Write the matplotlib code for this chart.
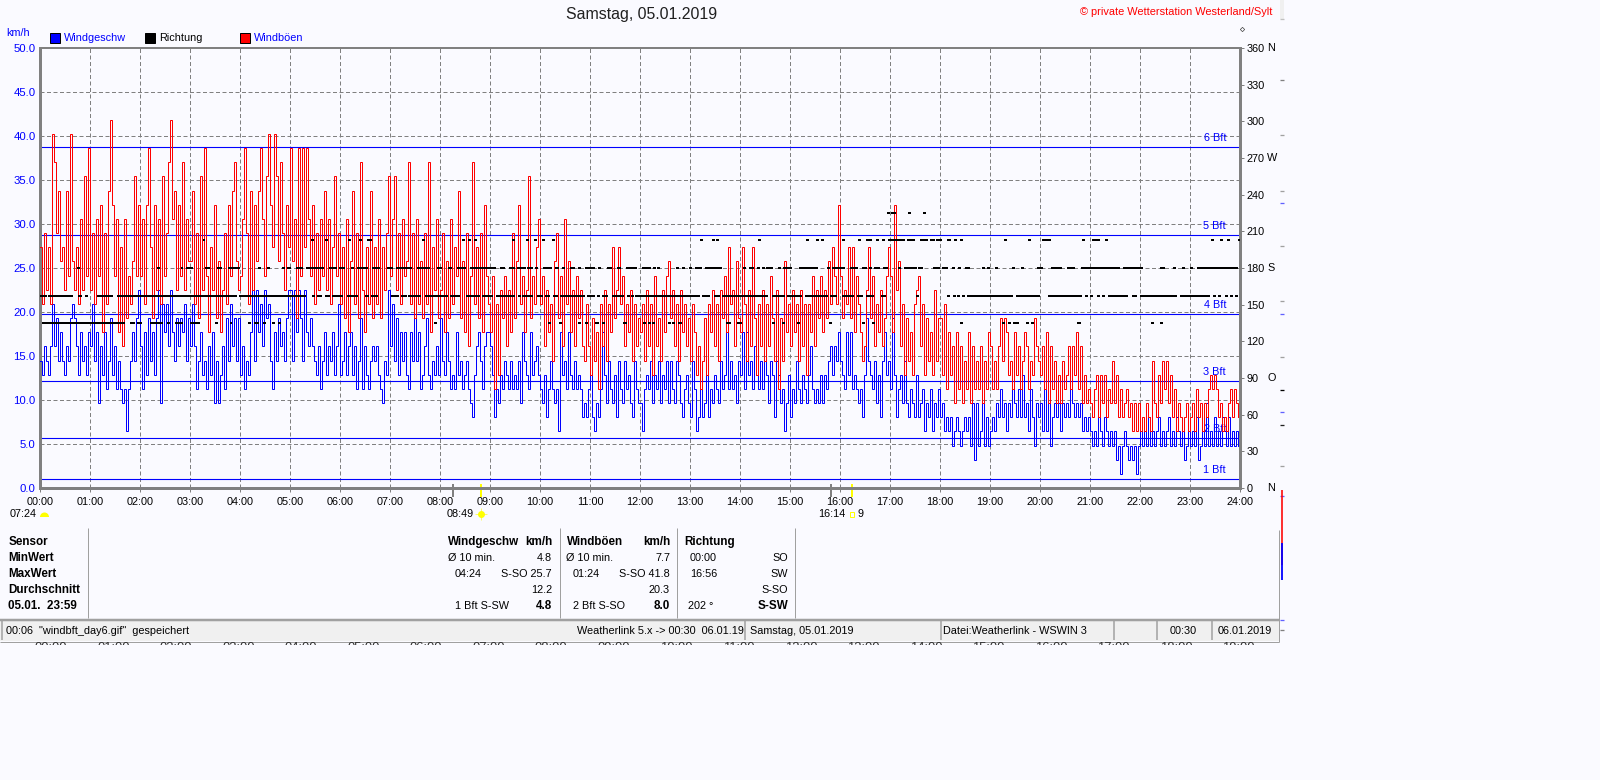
"""Tagesgrafik Wind (WSWIN): Windgeschwindigkeit, Boeen und Richtung, 05.01.2019."""
import matplotlib

matplotlib.use("Agg")
import matplotlib.pyplot as plt
import numpy as np
from matplotlib.patches import Rectangle, Wedge

plt.rcParams["font.family"] = ["Liberation Sans", "DejaVu Sans"]
plt.rcParams["path.simplify"] = False

# station logs whole mph, one row per hour
MPH_TO_KMH = 1.609
WIND_MPH = [
    9,8,10,9,8,10,13,10,12,9,11,9,8,10,9,12,13,12,10,8,11,9,10,8,11,
    10,13,9,11,6,10,8,11,7,9,12,8,10,7,9,7,6,7,4,7,9,11,9,12,14,
    10,7,11,8,12,9,11,8,12,14,6,13,11,13,10,14,11,9,12,10,12,11,13,9,12,
    10,13,10,7,9,11,8,9,7,10,8,11,6,9,6,8,10,7,12,9,13,10,12,9,12,
    8,10,7,9,8,11,14,9,14,11,13,10,14,12,13,9,7,11,9,12,10,11,9,12,14,
    14,9,14,11,14,12,9,14,11,10,12,10,9,8,10,7,9,11,8,10,9,11,8,10,13,
    8,9,11,8,10,11,8,10,7,9,12,7,10,8,7,9,10,9,10,8,7,6,9,8,14,
    10,13,9,12,8,11,9,11,8,7,11,9,12,9,11,7,8,10,12,8,7,9,8,10,8,
    12,9,8,11,9,7,8,7,11,8,9,7,8,9,7,6,5,8,10,11,9,7,10,11,11,
    10,8,5,7,6,8,7,9,8,7,9,7,8,7,9,6,11,9,8,7,11,8,9,10,8,
    7,6,8,5,7,9,7,6,7,4,11,8,9,7,11,8,7,9,7,8,7,5,6,5,7,
    8,5,4,6,5,7,11,8,6,9,7,6,8,5,9,7,6,9,7,8,6,5,9,7,6,
    6,4,7,8,7,9,6,8,7,9,6,8,7,9,6,9,7,6,9,8,6,5,7,8,6,
    5,9,7,4,5,7,5,6,8,5,7,6,8,7,6,9,7,8,11,7,9,7,8,6,9,
    8,11,7,11,8,9,7,10,8,7,9,7,9,8,6,9,8,5,9,8,6,7,4,6,8,
    5,7,6,9,7,6,8,7,6,8,10,7,6,7,6,8,6,8,7,9,10,8,10,9,11,
    9,8,7,11,8,11,7,8,7,6,7,5,8,12,9,8,7,9,6,8,5,9,11,8,9,
    7,12,8,5,7,8,6,9,6,5,7,6,5,8,5,6,7,4,6,5,7,4,6,5,7,
    5,6,4,5,4,5,3,4,5,4,3,4,5,4,5,3,6,2,6,3,4,6,3,5,3,
    4,5,4,6,5,7,5,6,4,6,5,7,6,5,7,5,8,5,6,4,7,5,3,6,5,
    6,4,7,4,6,3,5,6,5,6,4,6,5,6,5,7,6,5,6,5,6,4,5,4,5,
    4,3,4,3,5,4,3,5,4,3,4,3,4,2,3,1,3,4,3,2,3,2,3,1,3,
    4,3,4,3,5,3,4,3,4,5,3,4,3,4,5,3,4,3,5,4,3,4,2,3,4,
    3,4,3,5,2,3,4,3,6,3,4,3,5,3,4,3,5,4,3,5,3,4,3,4,3,
]
GUST_MPH = [
    17,13,18,14,17,13,25,23,18,21,16,17,14,21,15,25,16,14,17,13,19,14,22,15,24,
    14,18,13,19,15,20,11,18,13,21,26,20,15,19,11,17,10,19,12,15,13,16,22,15,20,
    15,19,13,20,24,17,12,20,14,19,13,22,15,18,23,26,19,21,14,20,15,23,14,19,16,
    16,21,13,18,12,22,14,24,15,11,17,14,20,12,16,11,14,18,13,20,15,21,23,16,14,
    15,19,24,18,13,21,14,20,16,21,24,19,15,22,25,20,17,25,22,16,23,18,14,20,17,
    24,16,19,12,24,15,24,17,24,19,15,20,13,18,14,19,15,21,14,19,13,17,22,15,18,
    13,17,12,19,11,16,21,13,18,12,23,14,11,17,13,21,12,17,13,19,12,17,14,18,22,
    15,19,22,14,18,13,19,15,16,23,13,18,12,19,13,16,12,18,13,23,11,17,14,19,12,
    14,18,11,16,12,19,13,17,15,21,12,16,11,18,10,15,23,13,17,12,18,11,20,15,13,
    11,15,7,13,8,14,12,15,10,14,11,18,12,16,20,13,15,11,14,22,12,15,13,17,19,
    13,15,10,14,11,13,9,16,18,12,15,10,19,13,16,11,14,10,15,12,14,10,9,13,10,
    8,12,9,11,7,13,10,14,9,13,11,17,12,14,17,13,15,10,13,11,14,9,13,10,12,
    11,13,9,14,10,13,8,15,10,12,9,14,11,15,16,12,14,10,13,9,14,11,13,10,12,
    9,13,11,8,10,7,9,12,8,13,11,14,10,13,9,14,12,15,11,17,13,14,10,16,12,
    11,17,13,9,14,10,17,12,8,13,10,14,9,13,10,15,12,9,14,7,12,9,16,11,13,
    10,14,11,13,9,14,10,13,8,13,11,15,10,14,12,15,11,14,12,16,13,17,15,13,20,
    15,12,14,13,17,12,17,11,15,13,11,9,10,14,17,12,15,10,13,11,14,10,12,15,17,
    15,11,20,14,16,10,13,8,12,9,11,8,13,14,15,10,13,8,12,9,11,8,14,9,12,
    12,8,13,7,11,8,10,6,11,7,10,6,9,7,11,6,10,7,9,7,10,6,9,7,11,
    10,7,9,7,10,12,9,12,11,8,9,7,11,8,10,7,9,11,10,7,9,8,12,10,9,
    8,10,7,11,6,10,7,9,6,8,6,9,7,8,10,7,10,8,11,7,10,6,8,6,7,
    6,5,7,8,5,8,6,8,5,7,6,9,6,8,5,7,5,6,7,5,6,4,6,4,6,
    4,5,4,6,5,4,9,6,5,8,6,9,7,9,6,8,5,7,4,6,5,4,5,6,4,
    5,6,4,7,5,6,4,6,5,7,8,7,8,7,5,6,4,5,4,6,7,5,7,6,5,
]

# wind direction: hours with a reading per 22.5 degree sector, single value = one dot
DIR_135 = [
    (0.04, 1.70), (1.80, 1.90), (1.94, 2.04), (2.20, 2.46), 2.54, (2.70, 2.86), (3.00, 3.20),
    3.50, 3.80, 4.16, (4.28, 4.38), (4.46, 4.49), 4.64, 4.76, 7.88, 10.16, 10.38, 10.76, 10.90,
    (11.10, 11.18), 11.24, (11.66, 11.74), 12.06, 12.16, 12.24, 12.56, 12.64, (12.76, 12.84),
    (13.72, 13.82), (13.94, 14.04), 14.64, 14.84, 15.14, 15.78, (16.44, 16.50), 16.64, 18.40,
    19.24, 19.36, (19.46, 19.58), 19.72, 19.82, (20.74, 20.82), 22.22, 22.40,
]
DIR_157 = [
    (0, 0.14), (0.16, 0.66), (0.76, 0.84), (0.90, 0.96), (1.14, 1.46), (1.54, 3.94), (3.98, 5.32),
    5.44, (5.54, 5.64), (5.70, 5.80), (5.84, 6.06), (6.14, 6.36), (6.50, 6.58), (6.62, 6.76),
    (7.02, 7.18), (7.22, 7.34), (7.36, 7.62), (7.70, 8.16), (8.20, 8.40), (8.52, 8.80), (8.84, 9.06),
    (9.12, 9.50), 9.56, (9.64, 9.86), (9.94, 10.06), (10.10, 10.20), (10.26, 10.36), (10.40, 10.90),
    (10.94, 11.10), 11.14, (11.24, 11.36), (11.44, 11.68), (11.74, 11.78), (11.82, 11.86),
    (11.90, 13.20), (13.24, 13.40), (13.48, 13.60), (13.64, 14.56), (14.64, 14.90), (14.94, 15.24),
    (15.30, 15.76), (15.80, 15.94), (16.04, 16.28), (16.34, 16.46), (16.52, 16.68), (16.82, 16.92),
    (17.52, 17.56), (18.14, 18.20), 18.26, 18.34, (18.44, 18.50), (18.54, 19.46), (19.52, 20.0),
    (20.16, 20.84), 20.90, 21.0, 21.14, (21.24, 21.30), (21.36, 21.76), (21.84, 21.94), (22.0, 22.74),
    (22.80, 23.40), 23.46, 23.56, 23.70, 23.80, 23.90,
]
DIR_180 = [
    0.74, 2.34, 2.82, (2.92, 3.06), (3.30, 3.40), (3.54, 3.64), (3.76, 4.00), 4.36, 4.54, 4.84,
    (4.94, 5.02), (5.12, 5.26), (5.32, 5.68), (5.78, 5.94), (5.98, 6.10), (6.22, 6.28), (6.34, 6.56),
    (6.64, 6.80), (6.94, 7.06), (7.12, 7.44), (7.54, 7.80), (7.94, 8.04), (8.16, 8.24), (8.34, 8.52),
    (8.60, 9.12), (9.20, 9.30), (9.38, 9.50), (9.54, 9.72), (9.74, 9.86), (9.90, 9.96), (10.06, 10.24),
    (10.30, 10.38), (10.44, 10.48), (10.60, 10.70), (10.76, 10.80), (10.90, 11.10), (11.16, 11.22),
    (11.34, 11.44), (11.54, 11.62), (11.72, 11.94), 12.04, 12.10, 12.16, 12.26, 12.34, 12.72, 12.84,
    (12.98, 13.04), (13.10, 13.24), (13.30, 13.64), 14.06, (14.18, 14.28), 14.34, 14.44, (14.52, 14.66),
    14.76, (14.86, 15.04), 15.18, (15.24, 15.56), (15.74, 15.80), (15.84, 16.10), (16.20, 16.36),
    (16.44, 16.54), (16.58, 16.64), (16.68, 16.80), (16.86, 16.96), (17.16, 17.22), (17.28, 17.54),
    (17.56, 17.66), (17.86, 18.0), (18.04, 18.16), 18.24, 18.36, (18.50, 18.60), 18.84, (18.94, 19.0),
    (19.10, 19.14), (19.44, 19.50), (19.62, 19.66), (19.94, 20.06), (20.22, 20.44), (20.54, 20.70),
    (20.82, 21.60), (21.66, 22.06), (22.40, 22.50), 22.66, 22.84, 23.0, (23.14, 23.96),
]
DIR_202 = [
    3.26, (5.42, 5.48), 5.70, 6.16, 6.38, (6.54, 6.64), 7.64, 8.44, 8.56, 8.68, 9.44, 9.72, 9.88, 10.04,
    10.24, 13.20, 13.44, 13.52, 14.36, 15.32, 15.52, 15.62, 16.04, 16.36, (16.52, 16.64), (16.72, 16.78),
    (16.84, 16.90), (16.96, 17.30), (17.34, 17.50), (17.60, 17.76), (17.80, 17.90), (17.92, 18.04),
    (18.14, 18.22), (18.28, 18.34), 18.40, 19.28, 19.76, (20.04, 20.22), 20.84, (21.04, 21.20), 21.30,
    23.42, 23.60, 23.74, 23.96,
]
DIR_225 = [16.94, (17.02, 17.12), 17.36, 17.66]

DIR_LEVELS = [135, 157.5, 180, 202.5, 225]
BFT_LABELS = ["1 Bft", "2 Bft", "3 Bft", "4 Bft", "5 Bft", "6 Bft"]
BFT_KMH = [1.0, 5.7, 12.2, 19.8, 28.8, 38.8]
KMH_TICKS = [0, 5, 10, 15, 20, 25, 30, 35, 40, 45, 50]
DEG_TICKS = [0, 30, 60, 90, 120, 150, 180, 210, 240, 270, 300, 330, 360]
COMPASS = {0: "N", 90: "O", 180: "S", 270: "W", 360: "N"}
HOURS = list(range(25))

BG = "#FAFAFF"
GRAY = "#808080"
PANEL = "#A0A0A0"
PX = 0.72  # one pixel in points at dpi 100

fig = plt.figure(figsize=(16, 7.8), dpi=100, facecolor=BG)

# full-figure layer in pixel coordinates for the program window around the chart
bg = fig.add_axes([0, 0, 1, 1], zorder=0)
bg.set_xlim(0, 1600)
bg.set_ylim(780, 0)
bg.axis("off")


def label(x, y, s, size=7.8, color="black", ha="left", weight="normal", **kw):
    return bg.text(x, y, s, fontsize=size, color=color, ha=ha, va="center", fontweight=weight, **kw)


ax = fig.add_axes([40 / 1600, 1 - 488 / 780, 1200 / 1600, 440 / 780], zorder=1)
ax.set_facecolor("none")
ax.set_xlim(0, 24)
ax.set_ylim(0, 50)
ax.set_xticks(HOURS)
ax.set_xticklabels([f"{h:02d}:00" for h in HOURS], fontsize=7.8)
ax.set_yticks(KMH_TICKS)
ax.set_yticklabels([f"{v:.1f}" for v in KMH_TICKS], fontsize=8.2, color="#0000FF")
ax.tick_params(axis="y", length=0, pad=3.2)
ax.tick_params(axis="x", length=3, width=PX, color=GRAY, pad=3.2)
ax.grid(True, color=GRAY, lw=PX, ls=(0, (4, 2.5)), zorder=1)
ax.set_axisbelow(True)
for side, width in [("left", 3), ("right", 3), ("bottom", 3), ("top", 2)]:
    ax.spines[side].set_color(GRAY)
    ax.spines[side].set_linewidth(width * PX)

for name, kmh in zip(BFT_LABELS, BFT_KMH):
    ax.axhline(kmh, color="#0000FF", lw=PX * 1.1, zorder=2)
    ax.annotate(name, (24, kmh), xytext=(-14 * PX, 9 * PX), textcoords="offset points",
                ha="right", va="center", fontsize=7.8, color="#0000FF", zorder=2)

wind = np.array(WIND_MPH) * MPH_TO_KMH
gust = np.array(GUST_MPH) * MPH_TO_KMH
ax.step(np.arange(len(wind)) * 24 / len(wind), wind, where="post", color="#0000FF",
        lw=PX, snap=True, solid_joinstyle="miter", zorder=3)
ax.step(np.arange(len(gust)) * 24 / len(gust), gust, where="post", color="#FF0000",
        lw=PX, snap=True, solid_joinstyle="miter", zorder=4)

ax2 = ax.twinx()
ax2.set_ylim(0, 360)
ax2.set_yticks(DEG_TICKS)
ax2.set_yticklabels([str(v) for v in DEG_TICKS], fontsize=7.8)
ax2.tick_params(axis="y", length=3, width=PX, color=GRAY, pad=1.5)
for spine in ax2.spines.values():
    spine.set_visible(False)
for level, readings in zip(DIR_LEVELS, [DIR_135, DIR_157, DIR_180, DIR_202, DIR_225]):
    for r in readings:
        start, end = r if isinstance(r, tuple) else (r, r + 0.05)
        ax2.hlines(level, start, max(end, start + 0.05), color="black", lw=2 * PX,
                   capstyle="butt", antialiased=False, zorder=5)

# title and legend
label(642, 15, "Samstag, 05.01.2019", size=11.4, color="#202020", ha="center")
label(1080, 12, "© private Wetterstation Westerland/Sylt", size=7.9, color="#FF0000")
label(6, 33, "km/h", color="#0000FF")
for x, text_x, color, name, text_color in [
    (50, 64, "#0000FF", "Windgeschw", "#0000FF"),
    (145, 159, "black", "Richtung", "black"),
    (240, 254, "#FF0000", "Windböen", "#0000FF"),
]:
    bg.add_patch(Rectangle((x, 33), 10, 10, fc=color, ec="black", lw=PX))
    label(text_x, 38, name, color=text_color)
bg.plot([1242], [29], marker="D", ms=2.2, mfc="none", mec="#404040", mew=0.5)

# compass letters next to the direction scale
for deg, letter in COMPASS.items():
    label(1267, 488 - deg * 440 / 360, letter)

# sunrise, sunset, moon row
label(37, 514, "07:24", ha="right")
bg.add_patch(Wedge((44.5, 517), 4.5, 180, 360, fc="#FFFF00", ec="none"))
label(474, 514, "08:49", ha="right")
bg.plot([481], [514], marker="o", ms=5, color="#FFFF00", mew=0)
bg.plot([481], [514], marker="+", ms=9, color="#FFFF00", mew=0.7, alpha=0.6)
label(845, 514, "16:14", ha="right")
bg.add_patch(Rectangle((849.5, 511.5), 4.5, 5, fc="none", ec="#FFFF00", lw=PX))
label(858, 514, "9")
bg.vlines([453, 831], 484, 497, color=GRAY, lw=2 * PX, zorder=6)
bg.vlines([481, 851.5], 484, 497, color="#FFFF00", lw=2 * PX, zorder=6)

# statistics table
for y, name in zip([542, 558, 574, 590, 606],
                   ["Sensor", "MinWert", "MaxWert", "Durchschnitt", "05.01.  23:59"]):
    label(8.5, y, name, size=8.4, weight="bold")

label(448, 542, "Windgeschw", size=8.4, weight="bold")
label(552.5, 542, "km/h", size=8.4, weight="bold", ha="right")
label(448, 558, "Ø 10 min.")
label(552, 558, "4.8", ha="right")
label(455, 574, "04:24")
label(552, 574, "S-SO 25.7", ha="right")
label(552, 590, "12.2", ha="right")
label(455, 606, "1 Bft S-SW")
label(552, 606, "4.8", size=8.4, weight="bold", ha="right")

label(566.5, 542, "Windböen", size=8.4, weight="bold")
label(670, 542, "km/h", size=8.4, weight="bold", ha="right")
label(566.5, 558, "Ø 10 min.")
label(670, 558, "7.7", ha="right")
label(573, 574, "01:24")
label(670, 574, "S-SO 41.8", ha="right")
label(670, 590, "20.3", ha="right")
label(573, 606, "2 Bft S-SO")
label(670, 606, "8.0", size=8.4, weight="bold", ha="right")

label(684, 542, "Richtung", size=8.4, weight="bold")
label(690, 558, "00:00")
label(788, 558, "SO", ha="right")
label(690, 574, "16:56")
label(788, 574, "SW", ha="right")
label(788, 590, "S-SO", ha="right")
label(687.5, 606, "202 °")
label(788, 606, "S-SW", size=8.4, weight="bold", ha="right")

bg.vlines([88, 559.5, 677, 795], 528, 618, color=PANEL, lw=PX)

# status bar
bg.add_patch(Rectangle((0, 619), 1279, 22, fc="#F0F0F0", ec="none"))
bg.hlines(619.5, 0, 1279, color=PANEL, lw=2.5 * PX)
bg.hlines(641.5, 0, 1279, color=PANEL, lw=PX)
bg.vlines(1279, 530, 642, color=PANEL, lw=PX)
bg.vlines([2, 745, 941, 1113.5, 1157, 1212], 620, 640, color=PANEL, lw=1.5 * PX)
label(6, 630.5, '00:06  "windbft_day6.gif"  gespeichert')
label(577, 630.5, "Weatherlink 5.x -> 00:30  06.01.19")
label(750, 630.5, "Samstag, 05.01.2019")
label(943, 630.5, "Datei:Weatherlink - WSWIN 3")
label(1170, 630.5, "00:30")
label(1218, 630.5, "06.01.2019")

# leftover time axis of the window below, only the top of the digits shows
clip = Rectangle((0, 642), 1279, 3, transform=bg.transData)
for h in range(20):
    t = label(51 + 62.5 * h, 648, f"{h:02d}:00", size=9.4, ha="center", color="#303030")
    t.set_clip_on(True)
    t.set_clip_path(clip)

# pixel remains in the narrow strip right of the window
bg.add_patch(Rectangle((1280, 0), 4, 19, fc="#F0F0F0", ec="none"))
for y, color in [(19, "#C0C0C0"), (80, GRAY), (135, PANEL), (191, PANEL), (203, "#6060FF"),
                 (246, PANEL), (301, PANEL), (314, "#6060FF"), (357, PANEL), (390, "black"),
                 (412, "#6060FF"), (425, "#202020"), (466, PANEL), (496, "#6060FF"),
                 (620, "#6060FF"), (630, GRAY)]:
    bg.hlines(y, 1280, 1284, color=color, lw=1.3 * PX)
bg.vlines(1282, 490, 565, color="#FF0000", lw=2 * PX, alpha=0.8)
bg.vlines(1282, 543, 580, color="#0000FF", lw=2 * PX, alpha=0.9)

fig.savefig("out.png", dpi=100, facecolor=BG)
plt.close(fig)
